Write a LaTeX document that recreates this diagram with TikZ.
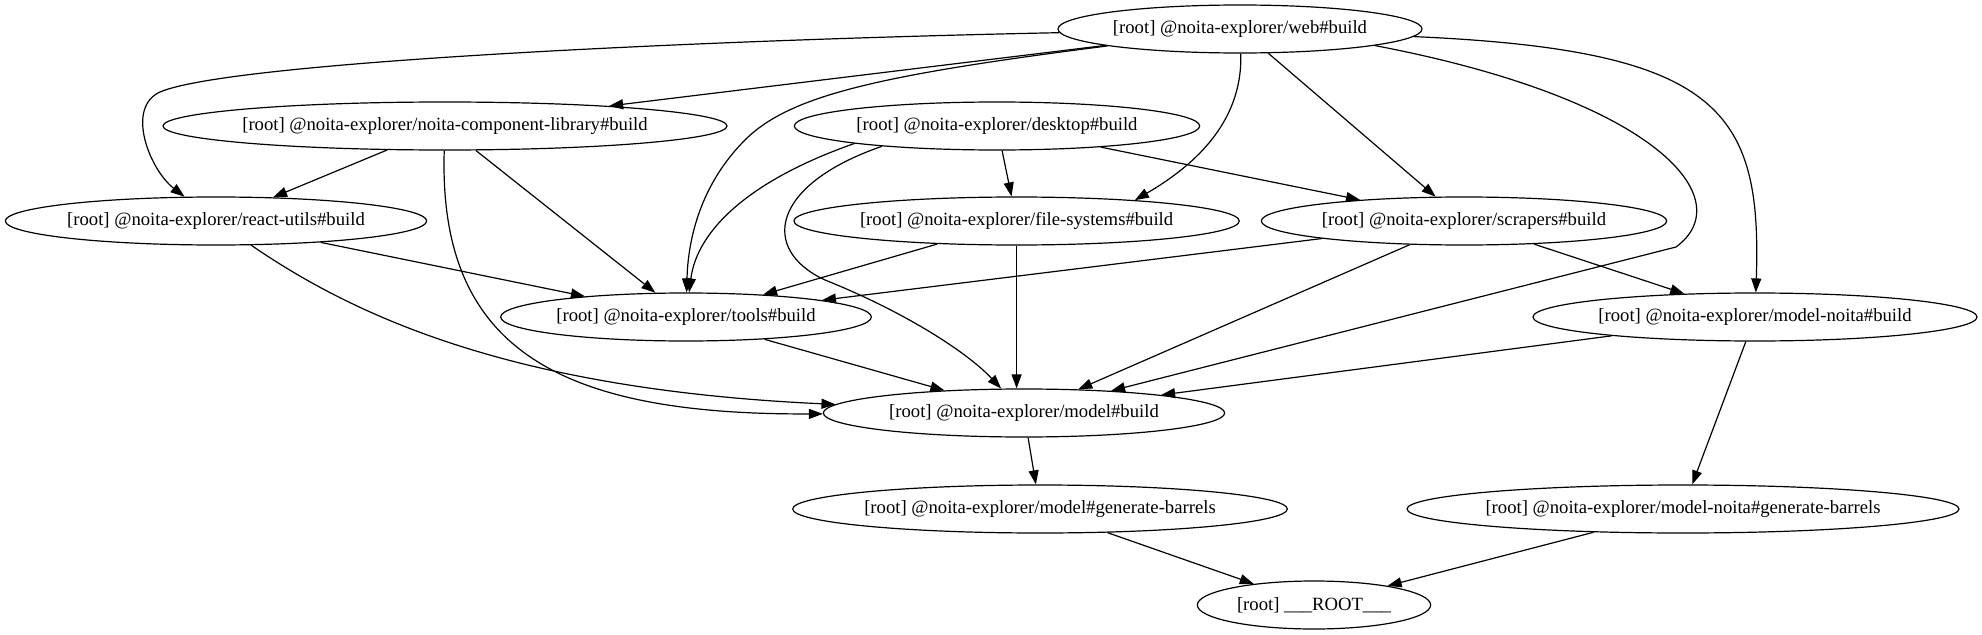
\documentclass[tikz,border=0pt]{standalone}
\usepackage{fontspec}
\setmainfont{Liberation Serif}
\usetikzlibrary{arrows.meta, shapes.geometric}

\tikzset{
  task/.style={draw, ellipse, line width=0.9pt, minimum height=36pt, inner sep=0pt},
  dep/.style={->, line width=0.9pt},
}
\newcommand{\tasklbl}[1]{\makebox[0pt]{[root] #1}}

\begin{document}
\begin{tikzpicture}[x=0.75pt, y=-0.75pt, >={Triangle[length=10.5pt, width=7.5pt]},
    font=\fontsize{14pt}{16pt}\selectfont]
  \useasboundingbox (0,0) rectangle (1982,635);
  % ── Tasks, one row per rank ───────────────────────────────────
  \node[task, minimum width=273pt] (web)     at (1240, 29) {\tasklbl{@noita-explorer/web\#build}};
  \node[task, minimum width=423pt] (complib) at (445,126)  {\tasklbl{@noita-explorer/noita-component-library\#build}};
  \node[task, minimum width=304pt] (desktop) at (997,126)  {\tasklbl{@noita-explorer/desktop\#build}};
  \node[task, minimum width=316pt] (react)   at (216,221)  {\tasklbl{@noita-explorer/react-utils\#build}};
  \node[task, minimum width=334pt] (fs)      at (1016.6,221) {\tasklbl{@noita-explorer/file-systems\#build}};
  \node[task, minimum width=304pt] (scrapers) at (1464,221) {\tasklbl{@noita-explorer/scrapers\#build}};
  \node[task, minimum width=278pt] (tools)   at (686,317)  {\tasklbl{@noita-explorer/tools\#build}};
  \node[task, minimum width=333pt] (mnb)     at (1755,317) {\tasklbl{@noita-explorer/model-noita\#build}};
  \node[task, minimum width=301pt] (model)   at (1024,413) {\tasklbl{@noita-explorer/model\#build}};
  \node[task, minimum width=371pt] (mgb)     at (1040,509) {\tasklbl{@noita-explorer/model\#generate-barrels}};
  \node[task, minimum width=414pt] (mngb)    at (1683,509) {\tasklbl{@noita-explorer/model-noita\#generate-barrels}};
  \node[task, minimum width=175pt] (root)    at (1314,605) {\tasklbl{\_\_\_ROOT\_\_\_}};
  % ── Straight dependencies ─────────────────────────────────────
  \foreach \a/\b in {web/complib, web/scrapers, complib/react, complib/tools,
      desktop/fs, desktop/scrapers, react/tools, fs/tools, scrapers/tools,
      scrapers/model, scrapers/mnb, tools/model, mnb/model, mnb/mngb,
      model/mgb, mgb/root, mngb/root}
    \draw[dep] (\a) -- (\b);
  \draw[dep] (fs) -- (fs |- model.north);
  % ── Curved dependencies ───────────────────────────────────────
  \draw[dep] (web) .. controls (700,40) and (230,62) .. (160,92)
    .. controls (125,108) and (150,170) .. (react);
  \draw[dep] (web) .. controls (880,75) and (790,95) .. (745,140)
    .. controls (700,185) and (688,240) .. (tools);
  \draw[dep] (web) .. controls (1243,125) and (1190,168) .. (fs.10);
  \draw[dep] (web.-7) .. controls (1660,100) and (1740,200) .. (1676,247) -- (model);
  \draw[dep] (web) .. controls (1720,50) and (1762,110) .. (mnb);
  \draw[dep] (complib) .. controls (438,350) and (560,415) .. (model);
  \draw[dep] (react) .. controls (360,320) and (520,390) .. (model);
  \draw[dep] (desktop.187) .. controls (750,180) and (697,230) .. (tools);
  \draw[dep] (desktop.190) .. controls (770,185) and (760,250) .. (825,280)
    .. controls (900,310) and (965,350) .. (model);
\end{tikzpicture}
\end{document}
